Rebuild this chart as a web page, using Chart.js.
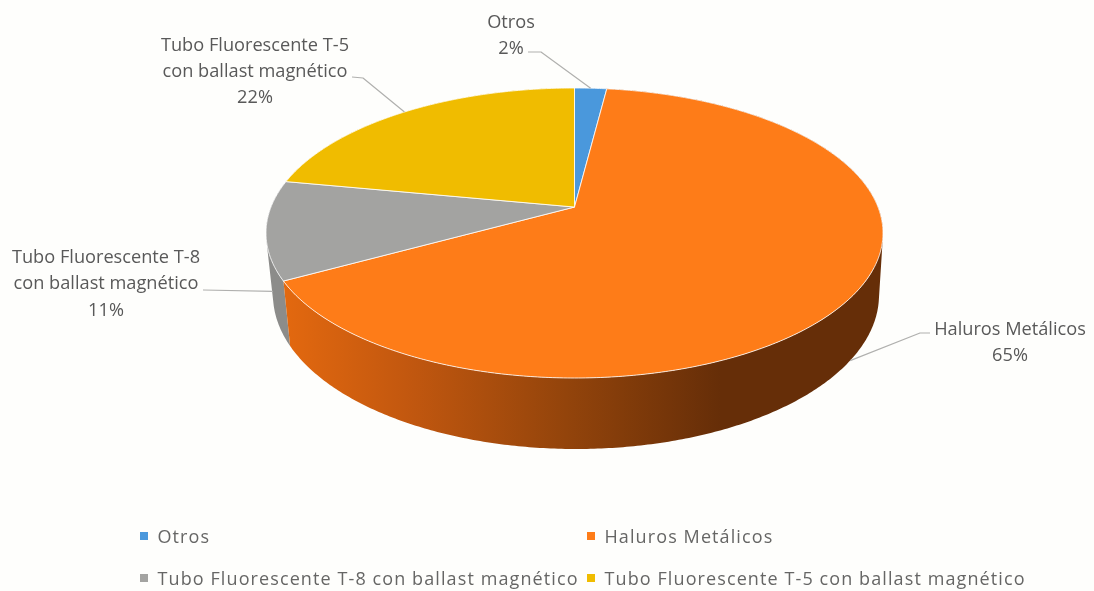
<!DOCTYPE html>
<html><head><meta charset="utf-8">
<script src="https://cdn.jsdelivr.net/npm/chart.js@4"></script>
<style>html,body{margin:0;padding:0;background:#fefefc;overflow:hidden}canvas{display:block;filter:blur(0.5px)}</style>
</head><body><canvas id="c" width="1094" height="591"></canvas>
<script>
const categories = ['Otros','Haluros Metálicos','Tubo Fluorescente T-8 con ballast magnético','Tubo Fluorescente T-5 con ballast magnético'];
const percentages = [2,65,11,22];
const sliceColors = ['#4a98dc','#fe7c18','#a3a3a1','#f0bc00'];
const wallColors = [null,null,'#8c8c8a',null];
const labelLines = [['Otros','2%'],['Haluros Metálicos','65%'],['Tubo Fluorescente T-8','con ballast magnético','11%'],['Tubo Fluorescente T-5','con ballast magnético','22%']];

// layout of the projected pie
const TOP = {cx:574.5, cy:233, rx:308.5, ry:145};
const BOT = {cx:576, cy:295, rx:303, ry:154};
const TILT = -0.179;
const labelPos = [{x:511,y:22.5,ld:26,edge:'top',elbow:[[528,52],[541,52]]},
                  {x:1010,y:330,ld:26,edge:'bot',elbow:[[930,333],[920,333]]},
                  {x:106,y:257.5,ld:26.5,edge:'bot',elbow:[[203,290]]},
                  {x:255,y:46,ld:26,edge:'top',elbow:[[352,77],[363,78]]}];
const legendPos = [{x:140,y:536},{x:587,y:536},{x:140,y:578},{x:587,y:578}];

function project(a, e){ // a: chart angle, e: ellipse
  const t=a+Math.PI/2, X=Math.sin(t), Y=-Math.cos(t), d=1+TILT*Y;
  return [e.cx+e.rx*X*Math.sqrt(1-TILT*TILT)/d, e.cy+e.ry*(Y+TILT)/d];
}
function samples(s,e){const n=Math.max(4,Math.ceil((e-s)/0.01)),r=[];for(let i=0;i<=n;i++)r.push(s+(e-s)*i/n);return r;}

const pie3d = {
  id:'pie3d',
  beforeDatasetsDraw(chart){
    const ctx=chart.ctx, arcs=chart.getDatasetMeta(0).data;
    ctx.save();
    const grad=ctx.createLinearGradient(280,0,720,0);
    grad.addColorStop(0,'#e4690f');grad.addColorStop(0.3,'#c1570f');grad.addColorStop(0.65,'#93440b');grad.addColorStop(1,'#662e08');
    // walls: every strip of a slice goes into one path, so no seams appear
    [2,0,3,1].forEach(i=>{
      const arc=arcs[i], as=samples(arc.startAngle,arc.endAngle);
      ctx.fillStyle=wallColors[i]||(i===1?grad:sliceColors[i]);
      ctx.beginPath();
      for(let j=0;j<as.length-1;j++){
        let q=[project(as[j],TOP),project(as[j+1],TOP),project(as[j+1],BOT),project(as[j],BOT)];
        let area=0;q.forEach((p,k)=>{const n=q[(k+1)%4];area+=p[0]*n[1]-n[0]*p[1];});
        if(area<0)q=q.reverse();
        q.forEach((p,k)=>k?ctx.lineTo(p[0],p[1]):ctx.moveTo(p[0],p[1]));
        ctx.closePath();
      }
      ctx.fill();
    });
    // top faces
    const centre=[TOP.cx,TOP.cy+TOP.ry*TILT];
    arcs.forEach((arc,i)=>{
      ctx.beginPath();ctx.moveTo(centre[0],centre[1]);
      samples(arc.startAngle,arc.endAngle).forEach(a=>{const p=project(a,TOP);ctx.lineTo(p[0],p[1]);});
      ctx.closePath();
      ctx.fillStyle=arc.options.backgroundColor;ctx.fill();
      ctx.strokeStyle='rgba(255,255,255,0.8)';ctx.lineWidth=1;ctx.lineJoin='round';ctx.stroke();
    });
    // leaders and labels
    ctx.font='18.2px "Open Sans"';ctx.textAlign='center';ctx.textBaseline='middle';
    arcs.forEach((arc,i)=>{
      const L=labelPos[i],mid=(arc.startAngle+arc.endAngle)/2,end=project(mid,L.edge==='top'?TOP:BOT);
      ctx.beginPath();L.elbow.forEach((p,k)=>k?ctx.lineTo(p[0],p[1]):ctx.moveTo(p[0],p[1]));ctx.lineTo(end[0],end[1]);
      ctx.strokeStyle='#b0b0ae';ctx.lineWidth=1.2;ctx.stroke();
      ctx.fillStyle='#595959';
      labelLines[i].forEach((t,k)=>ctx.fillText(t,L.x,L.y+k*L.ld));
    });
    // legend
    ctx.textAlign='left';ctx.font='18px "Open Sans"';ctx.letterSpacing='1.1px';
    categories.forEach((t,i)=>{
      const P=legendPos[i];
      ctx.fillStyle=sliceColors[i];ctx.fillRect(P.x,P.y-4,8,8);
      ctx.fillStyle='#666665';ctx.fillText(t,P.x+17.5,P.y+1.5);
    });
    ctx.letterSpacing='0px';
    ctx.restore();
    return false;
  }
};
new Chart(document.getElementById('c'),{
  type:'pie',
  data:{labels:categories,datasets:[{data:percentages,backgroundColor:sliceColors,borderWidth:0}]},
  options:{responsive:false,animation:false,plugins:{legend:{display:false},tooltip:{enabled:false}}},
  plugins:[pie3d]
});
</script></body></html>
